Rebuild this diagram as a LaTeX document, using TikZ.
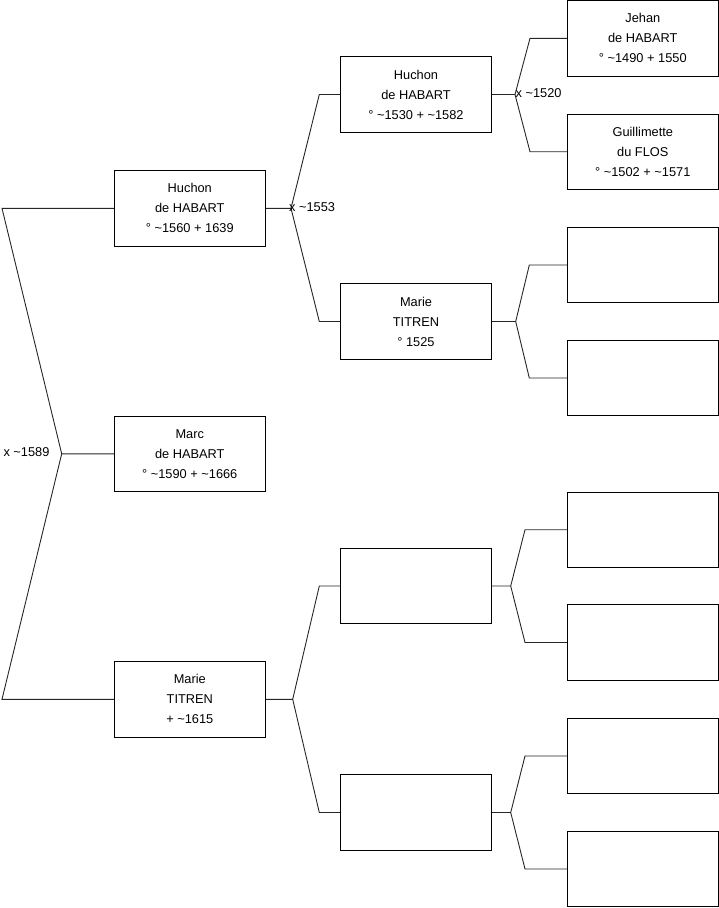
\documentclass[tikz,border=0pt]{standalone}
\usepackage{fontspec}
\setmainfont{Liberation Sans}
\begin{document}
\begin{tikzpicture}[x=1pt,y=-1pt,
  pbox/.style={draw=black,line width=0.9pt,minimum width=151pt,minimum height=75.5pt,inner sep=0pt,align=center,font=\fontsize{12.8pt}{20pt}\selectfont},
  conn/.style={draw=black!85,line width=0.9pt,line join=miter},
  lbl/.style={inner sep=0pt,anchor=west,font=\fontsize{12.8pt}{14pt}\selectfont}]
\useasboundingbox (0,0) rectangle (719,908);
% left column
\node[pbox] (huA) at (189.8,208.3) {Huchon\\de HABART\\° \textasciitilde1560 + 1639};
\node[pbox] (marc) at (189.8,453.8) {Marc\\de HABART\\° \textasciitilde1590 + \textasciitilde1666};
\node[pbox] (maA) at (189.8,699.3) {Marie\\TITREN\\+ \textasciitilde1615};
% middle column
\node[pbox] (huB) at (416,94.5) {Huchon\\de HABART\\° \textasciitilde1530 + \textasciitilde1582};
\node[pbox] (maB) at (416,321.5) {Marie\\TITREN\\° 1525};
\node[pbox] (m3) at (416,586) {};
\node[pbox] (m4) at (416,812.5) {};
% right column
\node[pbox] (jeh) at (642.8,38.3) {Jehan\\de HABART\\° \textasciitilde1490 + 1550};
\node[pbox] (gui) at (642.8,151.7) {Guillimette\\du FLOS\\° \textasciitilde1502 + \textasciitilde1571};
\node[pbox] (r3) at (642.8,265) {};
\node[pbox] (r4) at (642.8,378) {};
\node[pbox] (r5) at (642.8,529.7) {};
\node[pbox] (r6) at (642.8,642.5) {};
\node[pbox] (r7) at (642.8,756) {};
\node[pbox] (r8) at (642.8,869) {};
% branch points and elbows
\coordinate (b0) at (61.7,453.8);
\coordinate (e0a) at (2,208.3);
\coordinate (e0b) at (2,699.3);
\coordinate (b1) at (291,208.3);
\coordinate (e1a) at (319.3,94.5);
\coordinate (e1b) at (319.3,321.5);
\coordinate (b2) at (292.7,699.3);
\coordinate (e2a) at (319.3,586);
\coordinate (e2b) at (319.3,812.5);
\coordinate (b3) at (515,94.5);
\coordinate (e3a) at (530,38.3);
\coordinate (e3b) at (530,151.7);
\coordinate (b4) at (515.7,321.5);
\coordinate (e4a) at (529.3,265);
\coordinate (e4b) at (529.3,378);
\coordinate (b5) at (510.7,586);
\coordinate (e5a) at (525,529.7);
\coordinate (e5b) at (525,642.5);
\coordinate (b6) at (510.7,812.5);
\coordinate (e6a) at (525,756);
\coordinate (e6b) at (525,869);
% connectors
\draw[conn] (marc.west) -- (b0) -- (e0a) -- (huA.west);
\draw[conn] (b0) -- (e0b) -- (maA.west);
\draw[conn] (huA.east) -- (b1) -- (e1a) -- (huB.west);
\draw[conn] (b1) -- (e1b) -- (maB.west);
\draw[conn] (maA.east) -- (b2) -- (e2a) -- (m3.west);
\draw[conn] (b2) -- (e2b) -- (m4.west);
\draw[conn] (huB.east) -- (b3) -- (e3a) -- (jeh.west);
\draw[conn] (b3) -- (e3b) -- (gui.west);
\draw[conn] (maB.east) -- (b4) -- (e4a) -- (r3.west);
\draw[conn] (b4) -- (e4b) -- (r4.west);
\draw[conn] (m3.east) -- (b5) -- (e5a) -- (r5.west);
\draw[conn] (b5) -- (e5b) -- (r6.west);
\draw[conn] (m4.east) -- (b6) -- (e6a) -- (r7.west);
\draw[conn] (b6) -- (e6b) -- (r8.west);
% labels
\node[lbl] (l0) at (3.3,451.7) {x \textasciitilde1589};
\node[lbl] (l1) at (289,206.7) {x \textasciitilde1553};
\node[lbl] (l3) at (515.5,93.3) {x \textasciitilde1520};
\end{tikzpicture}
\end{document}
